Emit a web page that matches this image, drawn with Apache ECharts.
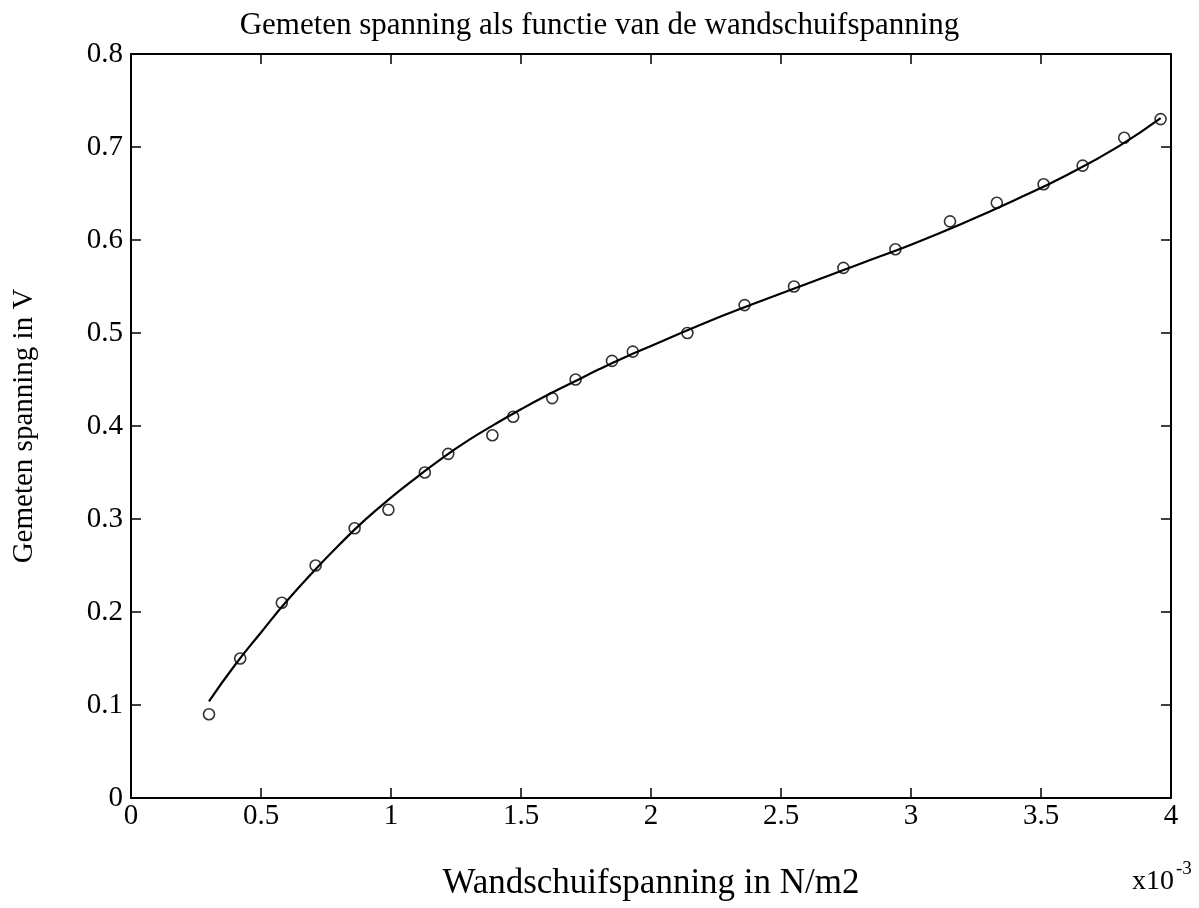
<!DOCTYPE html>
<html>
<head>
<meta charset="utf-8">
<script src="https://cdn.jsdelivr.net/npm/echarts@6/dist/echarts.min.js"></script>
<style>
  html, body { margin: 0; padding: 0; background: #fff; }
  #chart { width: 1199px; height: 908px; }
</style>
</head>
<body>
<div id="chart"></div>
<script>
// measured points (x in 1e-3 N/m2, y in V)
const measX = [0.30, 0.42, 0.58, 0.71, 0.86, 0.99, 1.13, 1.22, 1.39, 1.47, 1.62, 1.71, 1.85, 1.93, 2.14, 2.36, 2.55, 2.74, 2.94, 3.15, 3.33, 3.51, 3.66, 3.82, 3.96];
const measY = [0.09, 0.15, 0.21, 0.25, 0.29, 0.31, 0.35, 0.37, 0.39, 0.41, 0.43, 0.45, 0.47, 0.48, 0.50, 0.53, 0.55, 0.57, 0.59, 0.62, 0.64, 0.66, 0.68, 0.71, 0.73];

// fitted curve
const fitX = [0.3, 0.4, 0.5, 0.6, 0.7, 0.8, 0.9, 1.0, 1.1, 1.2, 1.3, 1.4, 1.5, 1.6, 1.7, 1.8, 1.9, 2.0, 2.2, 2.4, 2.6, 2.8, 3.0, 3.2, 3.4, 3.6, 3.8, 3.96];
const fitY = [0.104, 0.143, 0.178, 0.212, 0.243, 0.272, 0.299, 0.323, 0.345, 0.366, 0.385, 0.402, 0.418, 0.433, 0.447, 0.461, 0.474, 0.486, 0.510, 0.532, 0.553, 0.574, 0.595, 0.618, 0.643, 0.670, 0.701, 0.731];

const titleText = 'Gemeten spanning als functie van de wandschuifspanning';
const xName = 'Wandschuifspanning in N/m2';
const yName = 'Gemeten spanning in V';

const font = '"Liberation Serif", "DejaVu Serif", serif';

const chart = echarts.init(document.getElementById('chart'));

const tickInside = { show: true, inside: true, length: 10, lineStyle: { color: '#000', width: 1.5 } };
// onZero off, otherwise the top/right lines snap onto the other axis' zero
const lineBlack = { show: true, onZero: false, lineStyle: { color: '#000', width: 2 } };

chart.setOption({
  animation: false,
  backgroundColor: '#fff',
  title: {
    text: titleText,
    left: 'center',
    top: 5,
    textStyle: { fontFamily: font, fontSize: 31, fontWeight: 'normal', color: '#000' }
  },
  grid: { left: 131, right: 28, top: 54, bottom: 110, containLabel: false },
  xAxis: [{
    type: 'value', min: 0, max: 4, interval: 0.5,
    axisLine: lineBlack, axisTick: tickInside,
    axisLabel: { fontFamily: font, fontSize: 29, color: '#000', margin: 4 },
    splitLine: { show: false },
    name: xName, nameLocation: 'middle', nameGap: 68,
    nameTextStyle: { fontFamily: font, fontSize: 35, color: '#000' }
  }, {
    type: 'value', position: 'top', min: 0, max: 4, interval: 0.5,
    axisLine: lineBlack, axisTick: tickInside,
    axisLabel: { show: false }, splitLine: { show: false }
  }],
  yAxis: [{
    type: 'value', min: 0, max: 0.8, interval: 0.1,
    axisLine: lineBlack, axisTick: tickInside,
    axisLabel: { fontFamily: font, fontSize: 29, color: '#000', margin: 8 },
    splitLine: { show: false },
    name: yName, nameLocation: 'middle', nameGap: 92,
    nameTextStyle: { fontFamily: font, fontSize: 29, color: '#000' }
  }, {
    type: 'value', position: 'right', min: 0, max: 0.8, interval: 0.1,
    axisLine: lineBlack, axisTick: tickInside,
    axisLabel: { show: false }, splitLine: { show: false }
  }],
  graphic: [{
    type: 'text', left: 1132, top: 868,
    style: { text: 'x10', font: '28px ' + font, fill: '#000' }
  }, {
    type: 'text', left: 1176, top: 860,
    style: { text: '-3', font: '19px ' + font, fill: '#000' }
  }],
  series: [{
    type: 'line',
    data: fitX.map((x, i) => [x, fitY[i]]),
    smooth: true,
    showSymbol: false,
    lineStyle: { color: '#000', width: 2.2 },
    z: 2
  }, {
    // bound to the top/right axes (same ranges) so those box sides are drawn
    type: 'scatter',
    xAxisIndex: 1,
    yAxisIndex: 1,
    data: measX.map((x, i) => [x, measY[i]]),
    symbol: 'circle',
    symbolSize: 11,
    itemStyle: { color: 'rgba(255,255,255,0)', borderColor: '#000', borderWidth: 1.6 },
    z: 3
  }]
});
</script>
</body>
</html>
